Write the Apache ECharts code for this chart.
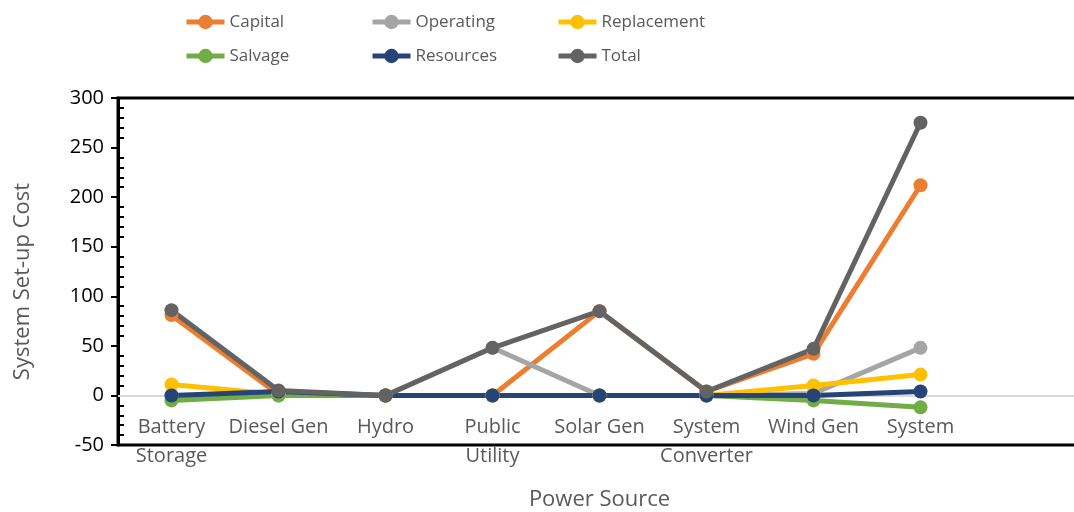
<!DOCTYPE html>
<html>
<head>
<meta charset="utf-8">
<script src="https://cdn.jsdelivr.net/npm/echarts@6/dist/echarts.min.js"></script>
<style>
  html, body { margin: 0; padding: 0; background: #fff; }
  #chart { width: 1074px; height: 512px; }
</style>
</head>
<body>
<div id="chart"></div>
<script>
// categories (last slot left empty, the plot runs past the right edge)
const categories = ['Battery\nStorage', 'Diesel Gen', 'Hydro', 'Public\nUtility', 'Solar Gen', 'System\nConverter', 'Wind Gen', 'System', '']

const capital = [81, 1, 0, 0, 85, 4, 42, 212]
const operating = [0, 0, 0, 48, 0, 0, 2, 48]
const replacement = [11, 1, 0, 0, 0, 0, 10, 21]
const salvage = [-5, 0, 0, 0, 0, 0, -5, -12]
const resources = [0, 4, 0, 0, 0, 0, 0, 4]
const total = [86, 5, 0, 48, 85, 4, 47, 275]

const yTicks = { min: -50, max: 300, interval: 50 }

const font = 'Open Sans'

function lineSeries(name, data, color) {
  return {
    name: name,
    type: 'line',
    data: data,
    symbol: 'circle',
    symbolSize: 14,
    color: color,
    lineStyle: { width: 5, color: color },
    itemStyle: { color: color },
    animation: false
  }
}

function legendCol(left, names) {
  return {
    left: left,
    top: 12,
    orient: 'vertical',
    padding: 0,
    itemGap: 14,
    itemWidth: 38,
    itemHeight: 18,
    lineStyle: { width: 5 },
    data: names,
    textStyle: { fontFamily: font, fontSize: 17, color: '#595959', lineHeight: 20 }
  }
}

const chart = echarts.init(document.getElementById('chart'))

chart.setOption({
  backgroundColor: '#fff',
  legend: [
    legendCol(184, ['Capital', 'Salvage']),
    legendCol(370, ['Operating', 'Resources']),
    legendCol(556, ['Replacement', 'Total'])
  ],
  grid: {
    left: 118,
    top: 98,
    width: 963,
    height: 347,
    show: true,
    borderColor: '#000',
    borderWidth: 3,
    containLabel: false,
    outerBoundsMode: 'none'
  },
  xAxis: {
    type: 'category',
    data: categories,
    boundaryGap: true,
    axisLine: { onZero: true, lineStyle: { color: '#d9d9d9', width: 2 } },
    axisTick: { show: false },
    axisLabel: {
      interval: 0,
      margin: -32,
      fontFamily: font,
      fontSize: 20,
      lineHeight: 29,
      color: '#595959'
    },
    name: 'Power Source',
    nameLocation: 'middle',
    nameGap: 44,
    nameTextStyle: { fontFamily: font, fontSize: 22, color: '#595959' },
    splitLine: { show: false }
  },
  yAxis: [
    {
      type: 'value',
      min: yTicks.min,
      max: yTicks.max,
      interval: yTicks.interval,
      axisLine: { show: true, lineStyle: { color: '#000', width: 3 } },
      axisTick: { show: true, length: 7, lineStyle: { color: '#000', width: 2 } },
      axisLabel: { fontFamily: font, fontSize: 20, color: '#000', margin: 14 },
      splitLine: { show: false },
      name: 'System Set-up Cost',
      nameLocation: 'middle',
      nameGap: 84,
      nameTextStyle: { fontFamily: font, fontSize: 22, color: '#595959', padding: [0, 20, 0, 0] }
    },
    {
      // minor ticks on the inside of the axis
      type: 'value',
      position: 'left',
      min: yTicks.min,
      max: yTicks.max,
      interval: yTicks.interval,
      axisLine: { show: false },
      axisTick: { show: false, inside: true },
      minorTick: { show: true, splitNumber: 5, length: 6, lineStyle: { color: '#000', width: 2 } },
      axisLabel: { show: false },
      splitLine: { show: false }
    }
  ],
  series: [
    lineSeries('Capital', capital, '#ED7D31'),
    lineSeries('Operating', operating, '#A5A5A5'),
    lineSeries('Replacement', replacement, '#FFC000'),
    lineSeries('Salvage', salvage, '#70AD47'),
    lineSeries('Resources', resources, '#264478'),
    lineSeries('Total', total, '#636363')
  ]
})
</script>
</body>
</html>
